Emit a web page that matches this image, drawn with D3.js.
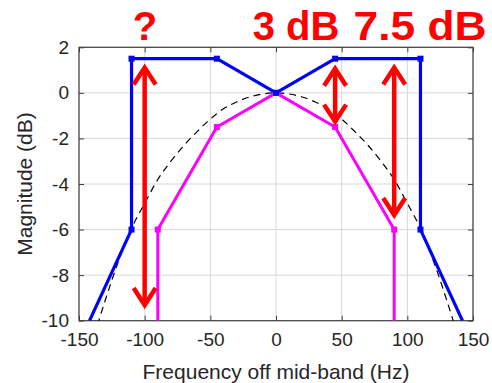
<!DOCTYPE html>
<html><head><meta charset="utf-8">
<script src="https://cdn.jsdelivr.net/npm/d3@7"></script>
<style>html,body{margin:0;padding:0;background:#fff;}svg{display:block;}</style>
</head><body><svg id="c" width="492" height="383"></svg>
<script>
// ---- data ----
const xTicks = [-150, -100, -50, 0, 50, 100, 150];
const yTicks = [2, 0, -2, -4, -6, -8, -10];
const blueF  = [-142, -110, -110, -45, 0, 45, 110, 110, 142];
const blueDb = [-10, -6, 1.5, 1.5, 0, 1.5, 1.5, -6, -10];
const blueMarkF  = [-110, -110, -45, 0, 45, 110, 110];
const blueMarkDb = [-6, 1.5, 1.5, 0, 1.5, 1.5, -6];
const magF  = [-90, -90, -45, 0, 45, 90, 90];
const magDb = [-10, -6, -1.5, 0, -1.5, -6, -10];
const magMarkF  = [-90, -45, 0, 45, 90];
const magMarkDb = [-6, -1.5, 0, -1.5, -6];
const dashF  = [-136, -130, -120, -110, -100, -90, -80, -70, -60, -50, -40, -30, -20, -10, 0, 10, 20, 30, 40, 50, 60, 70, 80, 90, 100, 110, 120, 130, 136];
const dashDb = [-10.2, -9.1, -7.4, -5.95, -4.85, -3.8, -3.0, -2.3, -1.7, -1.15, -0.7, -0.4, -0.18, -0.05, 0, -0.05, -0.18, -0.4, -0.7, -1.15, -1.7, -2.3, -3.0, -3.8, -4.85, -5.95, -7.4, -9.1, -10.2];
const arrowF   = [-100, 45, 90];
const arrowTop = [1.2, 1.15, 1.2];
const arrowBot = [-9.4, -1.35, -5.45];
const labels   = ["?", "3 dB", "7.5 dB"];
const labelX   = [145, 296, 420];

// ---- layout ----
const L = 79, R = 473, T = 47.3, B = 320.7;
const svg = d3.select("#c");
const x = d3.scaleLinear().domain([-150, 150]).range([L, R]);
const y = d3.scaleLinear().domain([-10, 2]).range([B, T]);
const axisCol = "#404040", textCol = "#262626";
const font = "'Liberation Sans', Arial, sans-serif";
const fmt = d => String(d);

// grid
const g = svg.append("g");
g.selectAll(".gx").data(xTicks).join("line")
  .attr("x1", d => x(d)).attr("x2", d => x(d)).attr("y1", T).attr("y2", B)
  .attr("stroke", "#d8d8d8").attr("stroke-width", 1);
g.selectAll(".gy").data(yTicks).join("line")
  .attr("y1", d => y(d)).attr("y2", d => y(d)).attr("x1", L).attr("x2", R)
  .attr("stroke", "#d8d8d8").attr("stroke-width", 1);

// axes
function styleAxis(sel) {
  sel.select(".domain").remove();
  sel.selectAll(".tick line").attr("stroke", axisCol);
  sel.selectAll(".tick text").attr("fill", textCol).style("font-family", font).style("font-size", "19px");
}
svg.append("g").attr("transform", `translate(0,${B})`)
  .call(d3.axisBottom(x).tickValues(xTicks).tickSize(-5).tickPadding(12).tickFormat(fmt))
  .call(styleAxis);
svg.append("g").attr("transform", `translate(0,${T})`)
  .call(d3.axisTop(x).tickValues(xTicks).tickSize(-5).tickFormat(""))
  .call(styleAxis);
svg.append("g").attr("transform", `translate(${L},0)`)
  .call(d3.axisLeft(y).tickValues(yTicks).tickSize(-5).tickPadding(10).tickFormat(fmt))
  .call(styleAxis);
svg.append("g").attr("transform", `translate(${R},0)`)
  .call(d3.axisRight(y).tickValues(yTicks).tickSize(-5).tickFormat(""))
  .call(styleAxis);
svg.append("rect").attr("x", L).attr("y", T).attr("width", R - L).attr("height", B - T)
  .attr("fill", "none").attr("stroke", axisCol).attr("stroke-width", 1.2);

// clip
svg.append("clipPath").attr("id", "clip").append("rect")
  .attr("x", L).attr("y", T).attr("width", R - L).attr("height", B - T);
const plot = svg.append("g").attr("clip-path", "url(#clip)");

// dashed curve
plot.append("path")
  .attr("d", d3.line().x(d => x(d[0])).y(d => y(d[1])).curve(d3.curveMonotoneX)(d3.zip(dashF, dashDb)))
  .attr("fill", "none").attr("stroke", "#000").attr("stroke-width", 1.2).attr("stroke-dasharray", "7,5");

const line = d3.line().x(d => x(d[0])).y(d => y(d[1]));
// magenta
plot.append("path").attr("d", line(d3.zip(magF, magDb)))
  .attr("fill", "none").attr("stroke", "#ff00ff").attr("stroke-width", 3).attr("stroke-linejoin", "round");
plot.selectAll(".mm").data(d3.zip(magMarkF, magMarkDb)).join("rect")
  .attr("x", d => x(d[0]) - 3).attr("y", d => y(d[1]) - 3).attr("width", 6).attr("height", 6)
  .attr("fill", "#ff00ff");
// blue
plot.append("path").attr("d", line(d3.zip(blueF, blueDb)))
  .attr("fill", "none").attr("stroke", "#0000ff").attr("stroke-width", 3.2).attr("stroke-linejoin", "round");
plot.selectAll(".bm").data(d3.zip(blueMarkF, blueMarkDb)).join("rect")
  .attr("x", d => x(d[0]) - 3).attr("y", d => y(d[1]) - 3).attr("width", 6).attr("height", 6)
  .attr("fill", "#0000ff");

// red arrows
const red = "#ff0000";
const ag = svg.append("g").attr("stroke", red).attr("fill", "none").attr("stroke-width", 4.5)
  .attr("stroke-linecap", "butt").attr("stroke-linejoin", "miter");
arrowF.forEach((f, i) => {
  const xx = x(f), y1 = y(arrowTop[i]), y2 = y(arrowBot[i]);
  ag.append("line").attr("x1", xx).attr("x2", xx).attr("y1", y1 + 2).attr("y2", y2 - 2);
  ag.append("path").attr("d", `M${xx - 11},${y1 + 19}L${xx},${y1 + 2}L${xx + 11},${y1 + 19}`);
  ag.append("path").attr("d", `M${xx - 11},${y2 - 19}L${xx},${y2 - 2}L${xx + 11},${y2 - 19}`);
});

// big labels
const labW = [null, null, 133];
svg.selectAll(".lab").data(labels).join("text")
  .attr("x", (d, i) => labelX[i]).attr("y", 40)
  .attr("text-anchor", "middle").attr("fill", red)
  .attr("textLength", (d, i) => labW[i])
  .attr("lengthAdjust", "spacingAndGlyphs")
  .style("font-family", font).style("font-weight", "bold").style("font-size", "40px")
  .text(d => d);

// axis labels
svg.append("text").attr("x", (L + R) / 2).attr("y", 379).attr("text-anchor", "middle")
  .attr("fill", textCol).style("font-family", font).style("font-size", "21px")
  .text("Frequency off mid-band (Hz)");
svg.append("text").attr("transform", `translate(32,${(T + B) / 2}) rotate(-90)`).attr("text-anchor", "middle")
  .attr("fill", textCol).style("font-family", font).style("font-size", "21px")
  .text("Magnitude (dB)");
</script></body></html>
